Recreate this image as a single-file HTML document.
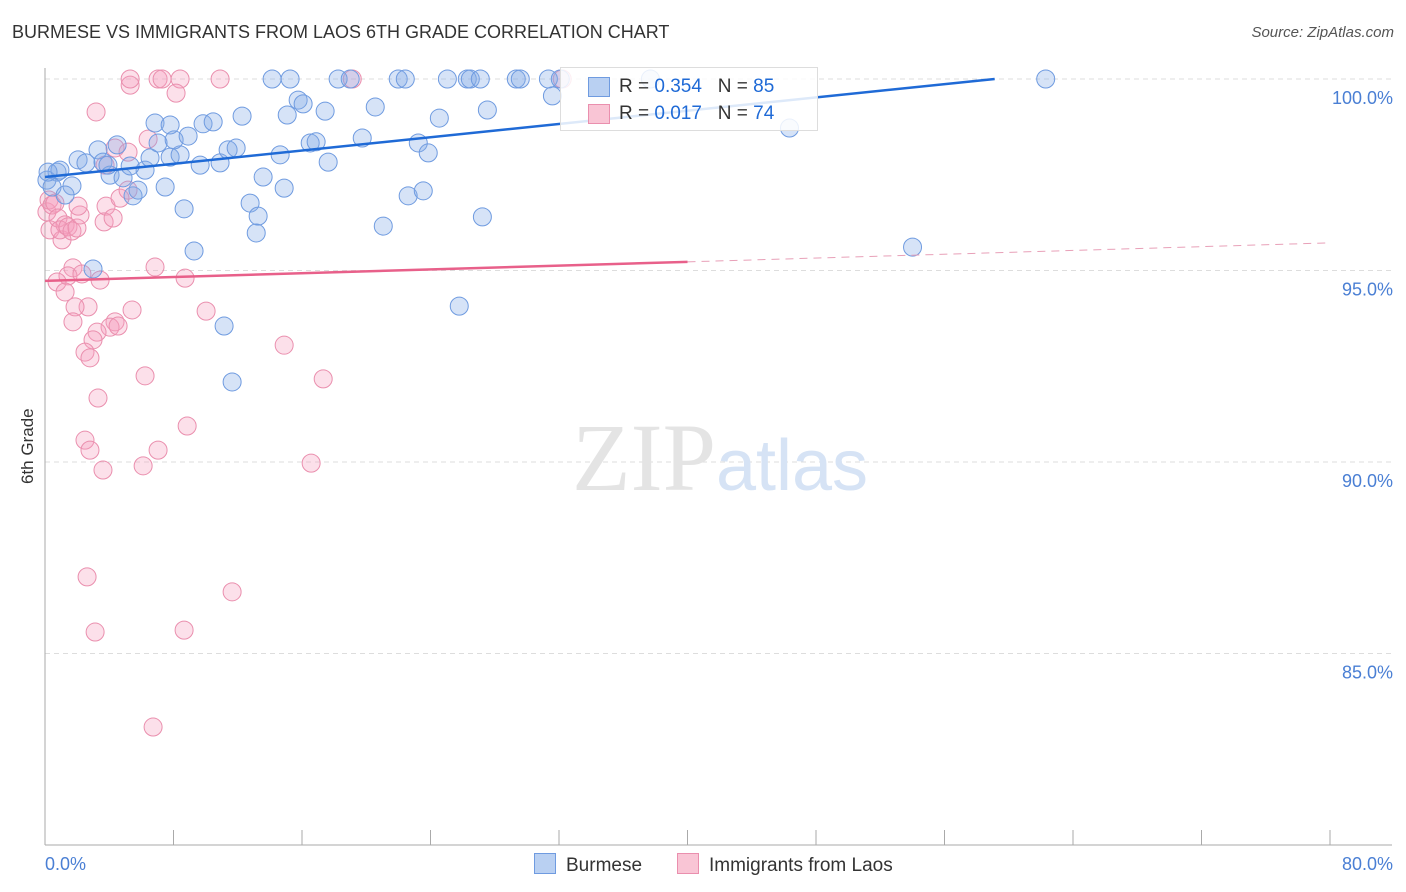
<!DOCTYPE html>
<html><head><meta charset="utf-8"><style>
body{margin:0;background:#fff;font-family:"Liberation Sans",sans-serif;}
#wrap{position:relative;width:1406px;height:892px;overflow:hidden;}
.t{position:absolute;white-space:nowrap;}
</style></head><body>
<div id="wrap">
<div class="t" style="left:12px;top:22px;font-size:18px;color:#333;">BURMESE VS IMMIGRANTS FROM LAOS 6TH GRADE CORRELATION CHART</div>
<div class="t" style="right:12px;top:24px;font-size:15px;color:#555;font-style:italic;">Source: ZipAtlas.com</div>
<div class="t" style="left:-2px;top:444px;font-size:17px;color:#333;transform:rotate(-90deg);transform-origin:center;width:60px;text-align:center;">6th Grade</div>
<svg id="svg" width="1406" height="892" style="position:absolute;left:0;top:0"></svg>
</div>
<script>
const xTickLabels=["0.0%","80.0%"];
const yTicks=[100,95,90,85];
const yTickLabels=["100.0%","95.0%","90.0%","85.0%"];
const burmeseX=[0.75,0.12,0.44,1.68,1.25,2.99,2.06,2.55,3.30,3.61,4.49,4.05,4.86,5.48,5.79,6.23,6.54,6.85,7.04,7.48,7.79,8.41,8.04,8.91,8.66,9.28,9.84,10.47,9.66,10.90,11.40,11.90,12.27,11.15,11.65,12.77,13.27,13.15,13.58,14.64,14.89,15.08,15.76,16.07,16.51,16.88,17.44,17.63,14.14,15.26,18.25,19.00,19.75,20.56,21.06,21.99,22.43,22.61,23.24,23.55,23.86,24.55,25.05,25.79,26.29,26.48,27.10,27.23,27.54,29.34,29.59,31.34,31.59,32.08,37.69,46.35,54.01,62.30,3.92,5.30,0.93,7.79,0.19];
const burmeseY=[97.57,97.36,97.18,97.21,96.97,95.04,97.89,97.81,98.15,97.83,98.28,97.49,97.42,96.95,97.10,97.62,97.94,98.85,98.33,97.18,97.96,98.02,98.41,98.51,96.61,95.51,98.83,98.88,97.75,97.81,98.15,98.20,99.03,93.55,92.09,96.76,96.42,95.98,97.44,98.02,97.15,99.06,99.45,99.35,98.33,98.36,99.16,97.83,100,100,100,100,98.46,99.27,96.16,100,100,96.95,98.33,97.08,98.07,98.98,100,94.07,100,100,100,96.40,99.19,100,100,100,99.56,100,100,98.72,95.61,100,97.75,97.73,97.62,98.80,97.57];
const laosX=[0.12,0.25,0.44,0.62,0.31,0.81,1.06,1.25,0.93,1.43,1.68,1.99,2.18,2.06,3.80,3.68,4.24,4.67,5.17,1.74,1.43,0.75,2.30,3.43,1.25,2.68,1.87,1.74,4.36,4.05,4.55,3.24,2.99,2.49,2.80,5.42,6.23,6.85,8.72,10.03,14.89,17.32,3.30,2.49,2.80,3.61,6.11,7.04,8.85,16.57,2.62,11.65,3.12,8.66,6.73,3.18,6.42,4.36,5.17,3.74,5.30,5.30,7.04,7.29,8.41,8.16,10.90,19.13,32.20];
const laosY=[96.53,96.84,96.71,96.76,96.06,96.37,95.80,96.19,96.06,96.14,96.03,96.11,96.45,96.68,96.68,96.27,96.37,96.89,97.10,95.07,94.86,94.70,94.91,94.75,94.44,94.05,94.05,93.66,93.66,93.52,93.55,93.39,93.19,92.87,92.72,93.97,92.25,95.09,94.80,93.94,93.05,92.17,91.67,90.57,90.31,89.79,89.90,90.31,90.94,89.97,87.00,86.61,85.56,85.61,83.08,99.14,98.43,98.20,98.09,97.75,99.84,100,100,100,100,99.63,100,100,100];
const burmeseTrend=[97.44,0.0433];
const laosTrend=[94.73,0.0124];
const X=v=>45+v/80*1285;
const Y=v=>79+(100-v)*38.3;
const svg=document.getElementById('svg');
const NS='http://www.w3.org/2000/svg';
function mk(tag,attrs,parent){const e=document.createElementNS(NS,tag);for(const k in attrs)e.setAttribute(k,attrs[k]);(parent||svg).appendChild(e);return e;}
yTicks.forEach((t,i)=>{
 const g=mk('line',{x1:45,x2:1392,y1:Y(t),y2:Y(t),stroke:'#ddd','stroke-dasharray':'5,4'});
 
 
 const l=mk('text',{x:1393,y:Y(t)+25,'text-anchor':'end','font-size':18,fill:'#4a7fd4','font-family':'Liberation Sans'});
 l.textContent=yTickLabels[i];
 
 
});
const ax=mk('line',{x1:45,x2:45,y1:68,y2:845,stroke:'#aaa'});


const bx=mk('line',{x1:45,x2:1392,y1:845,y2:845,stroke:'#aaa'});


for(let i=0;i<=10;i++){const tk=mk('line',{x1:X(i*8),x2:X(i*8),y1:830,y2:845,stroke:'#aaa'});
 
 }
[[0,'start',45],[1,'end',1393]].forEach(([i,a,x])=>{const l=mk('text',{x:x,y:870,'text-anchor':a,'font-size':18,fill:'#4a7fd4','font-family':'Liberation Sans'});l.textContent=xTickLabels[i];
 
 });
const wm=mk('text',{x:720,y:490,'text-anchor':'middle','font-size':96,fill:'#e4e4e4','font-family':'Liberation Serif'});


wm.innerHTML='ZIP<tspan fill="#d6e3f5" font-family="Liberation Sans" font-size="72">atlas</tspan>';
laosX.forEach((v,i)=>{const c=mk('circle',{cx:X(v),cy:Y(laosY[i]),r:9,fill:'rgba(245,160,190,0.32)',stroke:'#ea8fae','stroke-width':1});
 
 });
burmeseX.forEach((v,i)=>{const c=mk('circle',{cx:X(v),cy:Y(burmeseY[i]),r:9,fill:'rgba(130,170,230,0.33)',stroke:'#6f9be0','stroke-width':1});
 
 });
const bEnd=(100-burmeseTrend[0])/burmeseTrend[1];
const bl=mk('line',{x1:X(0),y1:Y(burmeseTrend[0]),x2:X(bEnd),y2:Y(100),stroke:'#1f6ad6','stroke-width':2.5});


const pl=mk('line',{x1:X(0),y1:Y(laosTrend[0]),x2:X(40),y2:Y(laosTrend[0]+40*laosTrend[1]),stroke:'#e8608a','stroke-width':2.5});


const pd=mk('line',{x1:X(40),y1:Y(laosTrend[0]+40*laosTrend[1]),x2:X(80),y2:Y(laosTrend[0]+80*laosTrend[1]),stroke:'#e8a0b8','stroke-width':1,'stroke-dasharray':'8,6'});


</script>
<div style="position:absolute;left:560px;top:67px;width:256px;height:62px;background:rgba(255,255,255,0.85);border:1px solid #ddd;font-size:19px;color:#333;">
 <div style="position:absolute;left:27px;top:9px;width:20px;height:18px;background:#b9d0f2;border:1px solid #6f9be0;"></div>
 <div class="t" style="left:58px;top:8px;">R = <span style="color:#1f6ad6">0.354</span> &nbsp;&nbsp;N = <span style="color:#1f6ad6">85</span></div>
 <div style="position:absolute;left:27px;top:36px;width:20px;height:18px;background:#f9c5d5;border:1px solid #ea8fae;"></div>
 <div class="t" style="left:58px;top:35px;">R = <span style="color:#1f6ad6">0.017</span> &nbsp;&nbsp;N = <span style="color:#1f6ad6">74</span></div>
</div>
<div style="position:absolute;left:534px;top:853px;font-size:19px;color:#333;">
 <span style="display:inline-block;width:20px;height:19px;background:#b9d0f2;border:1px solid #6f9be0;vertical-align:-3px;margin-right:10px;"></span>Burmese</div>
<div style="position:absolute;left:677px;top:853px;font-size:19px;color:#333;">
 <span style="display:inline-block;width:20px;height:19px;background:#f9c5d5;border:1px solid #ea8fae;vertical-align:-3px;margin-right:10px;"></span>Immigrants from Laos</div>
</body></html>
